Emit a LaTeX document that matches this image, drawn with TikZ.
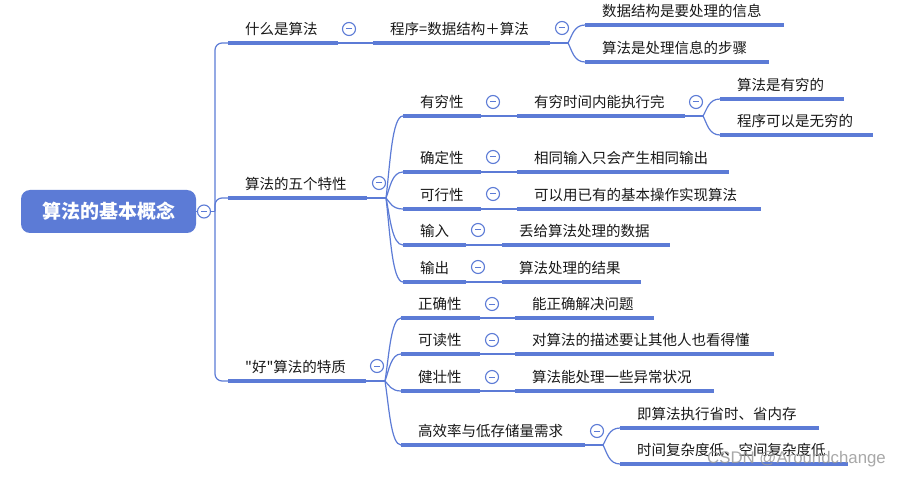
\documentclass[tikz,border=0pt]{standalone}
\usepackage{fontspec}
\setmainfont{Noto Sans CJK SC}
\newfontfamily\cjkfont{Noto Sans CJK SC}
\newfontfamily\wmfont{Liberation Sans}
\usetikzlibrary{calc}
\definecolor{mblue}{RGB}{92,123,214}
\definecolor{txt}{RGB}{25,25,25}
\tikzset{
  conn/.style={draw=mblue, line width=1.2pt},
  bar/.style={draw=mblue, line width=3.4pt},
  lbl/.style={anchor=west, inner sep=0pt, text=txt, font=\cjkfont\fontsize{14.5}{17}\selectfont},
  btn/.style={circle, draw=mblue, line width=1.1pt, fill=white, minimum size=13pt, inner sep=0pt,
    path picture={\draw[mblue, line width=1pt] ([xshift=-3pt]path picture bounding box.center) -- ([xshift=3pt]path picture bounding box.center);}},
  rootbox/.style={rectangle, rounded corners=9pt, fill=mblue, text=white, minimum width=175pt, minimum height=43pt,
    inner sep=0pt, font=\fontsize{19}{22}\selectfont\bfseries}
}
\newcommand\topic[5]{%
  \coordinate (#1-s) at (#2,#4);
  \coordinate (#1-e) at (#3,#4);
  \node[lbl] (#1) at ({#2+17},{#4-14}) {#5};}
\newcommand\topicbar[1]{\draw[bar] (#1-s) -- (#1-e);}
\newcommand\fanto[2]{\draw[conn] let \p1=(#1), \p2=(#2) in (\p1) .. controls ({\x1+4pt},{\y1+0.4*(\y2-\y1)}) and ({\x1+6pt},{\y2}) .. (\p2);}
\begin{document}
\begin{tikzpicture}[x=1pt,y=-1pt]
\useasboundingbox (0,0) rectangle (901,478);
\fill[white] (0,0) rectangle (901,478);

% root
\node[rootbox] (root) at (108.5,211.5) {算法的基本概念};
\coordinate (trunk) at (215,211.5);

% level 1
\topic{k1}{228}{338}{43}{什么是算法}
\topic{k2}{228}{367}{198}{算法的五个特性}
\topic{k3}{228}{366}{381}{"好"算法的特质}

% branch 1
\topic{a1}{373}{550}{43}{程序=数据结构＋算法}
\topic{a11}{585}{784}{25}{数据结构是要处理的信息}
\topic{a12}{585}{769}{62}{算法是处理信息的步骤}

% branch 2
\topic{b1}{403}{481}{116}{有穷性}
\topic{b2}{403}{481}{172}{确定性}
\topic{b3}{403}{481}{209}{可行性}
\topic{b4}{403}{466}{245}{输入}
\topic{b5}{403}{466}{282}{输出}
\topic{b1c}{517}{685}{116}{有穷时间内能执行完}
\topic{b2c}{517}{729}{172}{相同输入只会产生相同输出}
\topic{b3c}{517}{761}{209}{可以用已有的基本操作实现算法}
\topic{b4c}{502}{670}{245}{丢给算法处理的数据}
\topic{b5c}{502}{641}{282}{算法处理的结果}
\topic{b1c1}{720}{844}{99}{算法是有穷的}
\topic{b1c2}{720}{873}{135}{程序可以是无穷的}

% branch 3
\topic{c1}{401}{480}{318}{正确性}
\topic{c2}{401}{480}{354}{可读性}
\topic{c3}{401}{480}{391}{健壮性}
\topic{c4}{401}{585}{445}{高效率与低存储量需求}
\topic{c1c}{515}{654}{318}{能正确解决问题}
\topic{c2c}{515}{774}{354}{对算法的描述要让其他人也看得懂}
\topic{c3c}{515}{714}{391}{算法能处理一些异常状况}
\topic{c4c1}{620}{819}{428}{即算法执行省时、省内存}
\topic{c4c2}{620}{848}{464}{时间复杂度低、空间复杂度低}

% fan origins
\coordinate (fa1) at (568,43);
\coordinate (fk2) at (386,198);
\coordinate (fk3) at (385,381);
\coordinate (fb1) at (703,116);
\coordinate (fc4) at (603,445);

% connectors
\draw[conn] (root) -- (trunk);
\draw[conn, rounded corners=7pt] (k1-s) -| (trunk) |- (k3-s);
\draw[conn, rounded corners=7pt] (trunk) |- (k2-s);

\draw[conn] (k1-e) -- (a1-s);
\draw[conn] (a1-e) -- (fa1);
\fanto{fa1}{a11-s}
\fanto{fa1}{a12-s}

\draw[conn] (k2-e) -- (fk2);
\fanto{fk2}{b1-s}
\fanto{fk2}{b2-s}
\fanto{fk2}{b3-s}
\fanto{fk2}{b4-s}
\fanto{fk2}{b5-s}
\draw[conn] (b1-e) -- (b1c-s);
\draw[conn] (b2-e) -- (b2c-s);
\draw[conn] (b3-e) -- (b3c-s);
\draw[conn] (b4-e) -- (b4c-s);
\draw[conn] (b5-e) -- (b5c-s);
\draw[conn] (b1c-e) -- (fb1);
\fanto{fb1}{b1c1-s}
\fanto{fb1}{b1c2-s}

\draw[conn] (k3-e) -- (fk3);
\fanto{fk3}{c1-s}
\fanto{fk3}{c2-s}
\fanto{fk3}{c3-s}
\fanto{fk3}{c4-s}
\draw[conn] (c1-e) -- (c1c-s);
\draw[conn] (c2-e) -- (c2c-s);
\draw[conn] (c3-e) -- (c3c-s);
\draw[conn] (c4-e) -- (fc4);
\fanto{fc4}{c4c1-s}
\fanto{fc4}{c4c2-s}

% bars
\foreach \t in {k1,k2,k3,a1,a11,a12,b1,b2,b3,b4,b5,b1c,b2c,b3c,b4c,b5c,b1c1,b1c2,c1,c2,c3,c4,c1c,c2c,c3c,c4c1,c4c2}{\topicbar{\t}}

% collapse buttons
\node[btn] (x0) at (204,211.5) {};
\node[btn] (xk1) at (349,29) {};
\node[btn] (xk2) at (379,183) {};
\node[btn] (xk3) at (377,366) {};
\node[btn] (xa1) at (562,28) {};
\node[btn] (xb1) at (493,102) {};
\node[btn] (xb2) at (493,157) {};
\node[btn] (xb3) at (493,194) {};
\node[btn] (xb4) at (478,230) {};
\node[btn] (xb5) at (478,267) {};
\node[btn] (xb1c) at (696,102) {};
\node[btn] (xc1) at (492,304) {};
\node[btn] (xc2) at (492,340) {};
\node[btn] (xc3) at (492,377) {};
\node[btn] (xc4) at (597,431) {};

% watermark
\node[anchor=west, inner sep=0pt, text=black!40, opacity=0.85, font=\wmfont\fontsize{16.8}{19}\selectfont] (wm) at (707,459) {CSDN @Aroundchange};
\end{tikzpicture}
\end{document}
